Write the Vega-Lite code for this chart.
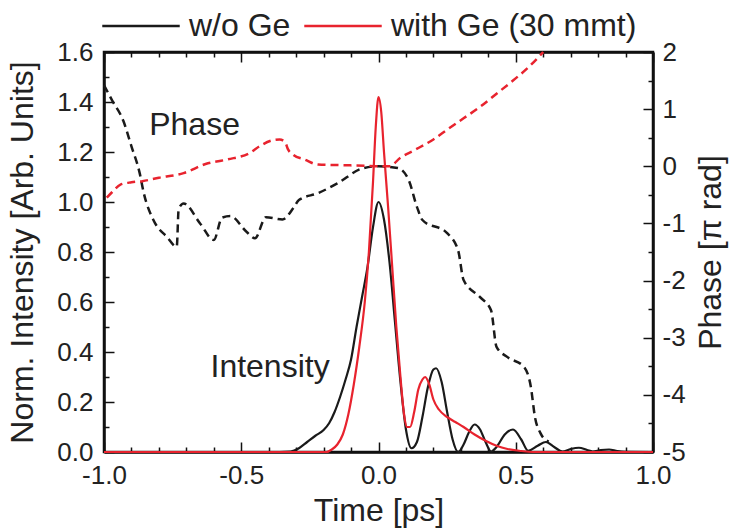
{
  "$schema": "https://vega.github.io/schema/vega-lite/v6.json",
  "width": 549,
  "height": 400,
  "autosize": {"type": "none"},
  "padding": {"left": 104, "top": 52, "right": 79, "bottom": 78},
  "config": {
    "view": {"stroke": "#111", "strokeWidth": 2.5},
    "font": "Liberation Sans",
    "axis": {
      "labelFont": "Liberation Sans",
      "titleFont": "Liberation Sans",
      "labelFontSize": 26,
      "titleFontSize": 32,
      "titleFontWeight": "normal",
      "labelColor": "#222",
      "titleColor": "#222",
      "domainColor": "#111",
      "domainWidth": 2.5,
      "tickColor": "#111",
      "tickWidth": 1.5,
      "grid": false,
      "labelOverlap": false,
      "labelFlush": false
    }
  },
  "datasets": {
    "intensity": [
      {"t": -1.0, "I": 0, "s": "w/o Ge"}, {"t": -0.6, "I": 0, "s": "w/o Ge"}, {"t": -0.4, "I": 0, "s": "w/o Ge"},
      {"t": -0.32, "I": 0.002, "s": "w/o Ge"}, {"t": -0.29, "I": 0.015, "s": "w/o Ge"}, {"t": -0.26, "I": 0.04, "s": "w/o Ge"},
      {"t": -0.23, "I": 0.065, "s": "w/o Ge"}, {"t": -0.2, "I": 0.088, "s": "w/o Ge"}, {"t": -0.18, "I": 0.115, "s": "w/o Ge"},
      {"t": -0.16, "I": 0.16, "s": "w/o Ge"}, {"t": -0.14, "I": 0.22, "s": "w/o Ge"}, {"t": -0.12, "I": 0.29, "s": "w/o Ge"},
      {"t": -0.1, "I": 0.37, "s": "w/o Ge"}, {"t": -0.08, "I": 0.5, "s": "w/o Ge"}, {"t": -0.06, "I": 0.62, "s": "w/o Ge"},
      {"t": -0.04, "I": 0.74, "s": "w/o Ge"}, {"t": -0.02, "I": 0.9, "s": "w/o Ge"}, {"t": 0, "I": 1.0, "s": "w/o Ge"},
      {"t": 0.02, "I": 0.93, "s": "w/o Ge"}, {"t": 0.04, "I": 0.76, "s": "w/o Ge"}, {"t": 0.06, "I": 0.52, "s": "w/o Ge"},
      {"t": 0.08, "I": 0.28, "s": "w/o Ge"}, {"t": 0.1, "I": 0.09, "s": "w/o Ge"}, {"t": 0.12, "I": 0.015, "s": "w/o Ge"},
      {"t": 0.14, "I": 0.04, "s": "w/o Ge"}, {"t": 0.16, "I": 0.14, "s": "w/o Ge"}, {"t": 0.18, "I": 0.26, "s": "w/o Ge"},
      {"t": 0.2, "I": 0.33, "s": "w/o Ge"}, {"t": 0.21, "I": 0.335, "s": "w/o Ge"}, {"t": 0.23, "I": 0.28, "s": "w/o Ge"},
      {"t": 0.25, "I": 0.16, "s": "w/o Ge"}, {"t": 0.27, "I": 0.05, "s": "w/o Ge"}, {"t": 0.29, "I": 0.0, "s": "w/o Ge"},
      {"t": 0.31, "I": 0.03, "s": "w/o Ge"}, {"t": 0.33, "I": 0.08, "s": "w/o Ge"}, {"t": 0.35, "I": 0.11, "s": "w/o Ge"},
      {"t": 0.37, "I": 0.09, "s": "w/o Ge"}, {"t": 0.39, "I": 0.04, "s": "w/o Ge"}, {"t": 0.41, "I": 0.002, "s": "w/o Ge"},
      {"t": 0.43, "I": 0.02, "s": "w/o Ge"}, {"t": 0.46, "I": 0.07, "s": "w/o Ge"}, {"t": 0.49, "I": 0.09, "s": "w/o Ge"},
      {"t": 0.52, "I": 0.05, "s": "w/o Ge"}, {"t": 0.545, "I": 0.005, "s": "w/o Ge"}, {"t": 0.58, "I": 0.025, "s": "w/o Ge"},
      {"t": 0.61, "I": 0.04, "s": "w/o Ge"}, {"t": 0.64, "I": 0.02, "s": "w/o Ge"}, {"t": 0.67, "I": 0.002, "s": "w/o Ge"},
      {"t": 0.7, "I": 0.012, "s": "w/o Ge"}, {"t": 0.73, "I": 0.017, "s": "w/o Ge"}, {"t": 0.76, "I": 0.008, "s": "w/o Ge"},
      {"t": 0.78, "I": 0.002, "s": "w/o Ge"}, {"t": 0.81, "I": 0.008, "s": "w/o Ge"}, {"t": 0.84, "I": 0.01, "s": "w/o Ge"},
      {"t": 0.87, "I": 0.004, "s": "w/o Ge"}, {"t": 0.9, "I": 0.001, "s": "w/o Ge"}, {"t": 1.0, "I": 0, "s": "w/o Ge"},

      {"t": -1.0, "I": 0, "s": "with Ge (30 mmt)"}, {"t": -0.4, "I": 0, "s": "with Ge (30 mmt)"}, {"t": -0.19, "I": 0, "s": "with Ge (30 mmt)"},
      {"t": -0.17, "I": 0.01, "s": "with Ge (30 mmt)"}, {"t": -0.15, "I": 0.03, "s": "with Ge (30 mmt)"}, {"t": -0.13, "I": 0.07, "s": "with Ge (30 mmt)"},
      {"t": -0.11, "I": 0.15, "s": "with Ge (30 mmt)"}, {"t": -0.09, "I": 0.27, "s": "with Ge (30 mmt)"}, {"t": -0.07, "I": 0.42, "s": "with Ge (30 mmt)"},
      {"t": -0.05, "I": 0.6, "s": "with Ge (30 mmt)"}, {"t": -0.035, "I": 0.8, "s": "with Ge (30 mmt)"}, {"t": -0.02, "I": 1.08, "s": "with Ge (30 mmt)"},
      {"t": -0.01, "I": 1.3, "s": "with Ge (30 mmt)"}, {"t": 0, "I": 1.42, "s": "with Ge (30 mmt)"}, {"t": 0.01, "I": 1.36, "s": "with Ge (30 mmt)"},
      {"t": 0.02, "I": 1.2, "s": "with Ge (30 mmt)"}, {"t": 0.035, "I": 0.98, "s": "with Ge (30 mmt)"}, {"t": 0.05, "I": 0.74, "s": "with Ge (30 mmt)"},
      {"t": 0.065, "I": 0.5, "s": "with Ge (30 mmt)"}, {"t": 0.08, "I": 0.3, "s": "with Ge (30 mmt)"}, {"t": 0.092, "I": 0.16, "s": "with Ge (30 mmt)"},
      {"t": 0.104, "I": 0.1, "s": "with Ge (30 mmt)"}, {"t": 0.115, "I": 0.1, "s": "with Ge (30 mmt)"}, {"t": 0.13, "I": 0.16, "s": "with Ge (30 mmt)"},
      {"t": 0.145, "I": 0.25, "s": "with Ge (30 mmt)"}, {"t": 0.16, "I": 0.29, "s": "with Ge (30 mmt)"}, {"t": 0.17, "I": 0.3, "s": "with Ge (30 mmt)"},
      {"t": 0.185, "I": 0.27, "s": "with Ge (30 mmt)"}, {"t": 0.2, "I": 0.21, "s": "with Ge (30 mmt)"}, {"t": 0.22, "I": 0.17, "s": "with Ge (30 mmt)"},
      {"t": 0.25, "I": 0.14, "s": "with Ge (30 mmt)"}, {"t": 0.28, "I": 0.12, "s": "with Ge (30 mmt)"}, {"t": 0.31, "I": 0.1, "s": "with Ge (30 mmt)"},
      {"t": 0.35, "I": 0.07, "s": "with Ge (30 mmt)"}, {"t": 0.39, "I": 0.045, "s": "with Ge (30 mmt)"}, {"t": 0.43, "I": 0.025, "s": "with Ge (30 mmt)"},
      {"t": 0.47, "I": 0.012, "s": "with Ge (30 mmt)"}, {"t": 0.52, "I": 0.004, "s": "with Ge (30 mmt)"}, {"t": 0.56, "I": 0, "s": "with Ge (30 mmt)"},
      {"t": 1.0, "I": 0, "s": "with Ge (30 mmt)"}
    ],
    "phase": [
      {"t": -1.0, "p": 1.42, "s": "w/o Ge"}, {"t": -0.97, "p": 1.15, "s": "w/o Ge"}, {"t": -0.93, "p": 0.8, "s": "w/o Ge"},
      {"t": -0.9, "p": 0.35, "s": "w/o Ge"}, {"t": -0.87, "p": -0.12, "s": "w/o Ge"}, {"t": -0.855, "p": -0.47, "s": "w/o Ge"},
      {"t": -0.82, "p": -0.94, "s": "w/o Ge"}, {"t": -0.77, "p": -1.24, "s": "w/o Ge"}, {"t": -0.735, "p": -1.41, "s": "w/o Ge"},
      {"t": -0.728, "p": -0.75, "s": "w/o Ge"}, {"t": -0.71, "p": -0.65, "s": "w/o Ge"}, {"t": -0.65, "p": -1.0, "s": "w/o Ge"},
      {"t": -0.6, "p": -1.29, "s": "w/o Ge"}, {"t": -0.57, "p": -0.9, "s": "w/o Ge"}, {"t": -0.54, "p": -0.87, "s": "w/o Ge"},
      {"t": -0.48, "p": -1.15, "s": "w/o Ge"}, {"t": -0.45, "p": -1.26, "s": "w/o Ge"}, {"t": -0.41, "p": -0.89, "s": "w/o Ge"},
      {"t": -0.35, "p": -0.93, "s": "w/o Ge"}, {"t": -0.31, "p": -0.73, "s": "w/o Ge"}, {"t": -0.29, "p": -0.59, "s": "w/o Ge"},
      {"t": -0.22, "p": -0.47, "s": "w/o Ge"}, {"t": -0.15, "p": -0.3, "s": "w/o Ge"}, {"t": -0.06, "p": -0.04, "s": "w/o Ge"},
      {"t": 0, "p": 0, "s": "w/o Ge"}, {"t": 0.07, "p": -0.03, "s": "w/o Ge"}, {"t": 0.11, "p": -0.24, "s": "w/o Ge"},
      {"t": 0.14, "p": -0.71, "s": "w/o Ge"}, {"t": 0.16, "p": -0.94, "s": "w/o Ge"}, {"t": 0.25, "p": -1.17, "s": "w/o Ge"},
      {"t": 0.29, "p": -1.47, "s": "w/o Ge"}, {"t": 0.31, "p": -1.99, "s": "w/o Ge"}, {"t": 0.37, "p": -2.29, "s": "w/o Ge"},
      {"t": 0.41, "p": -2.52, "s": "w/o Ge"}, {"t": 0.43, "p": -3.16, "s": "w/o Ge"}, {"t": 0.47, "p": -3.34, "s": "w/o Ge"},
      {"t": 0.53, "p": -3.51, "s": "w/o Ge"}, {"t": 0.555, "p": -3.86, "s": "w/o Ge"}, {"t": 0.57, "p": -4.39, "s": "w/o Ge"},
      {"t": 0.59, "p": -4.67, "s": "w/o Ge"}, {"t": 0.62, "p": -4.82, "s": "w/o Ge"},

      {"t": -0.99, "p": -0.55, "s": "with Ge (30 mmt)"}, {"t": -0.97, "p": -0.45, "s": "with Ge (30 mmt)"}, {"t": -0.94, "p": -0.32, "s": "with Ge (30 mmt)"},
      {"t": -0.9, "p": -0.28, "s": "with Ge (30 mmt)"}, {"t": -0.86, "p": -0.26, "s": "with Ge (30 mmt)"}, {"t": -0.8, "p": -0.2, "s": "with Ge (30 mmt)"},
      {"t": -0.71, "p": -0.12, "s": "with Ge (30 mmt)"}, {"t": -0.63, "p": 0.04, "s": "with Ge (30 mmt)"}, {"t": -0.55, "p": 0.12, "s": "with Ge (30 mmt)"},
      {"t": -0.47, "p": 0.23, "s": "with Ge (30 mmt)"}, {"t": -0.43, "p": 0.36, "s": "with Ge (30 mmt)"}, {"t": -0.39, "p": 0.45, "s": "with Ge (30 mmt)"},
      {"t": -0.36, "p": 0.47, "s": "with Ge (30 mmt)"}, {"t": -0.34, "p": 0.42, "s": "with Ge (30 mmt)"}, {"t": -0.33, "p": 0.3, "s": "with Ge (30 mmt)"},
      {"t": -0.31, "p": 0.2, "s": "with Ge (30 mmt)"}, {"t": -0.27, "p": 0.12, "s": "with Ge (30 mmt)"}, {"t": -0.22, "p": 0.03, "s": "with Ge (30 mmt)"},
      {"t": -0.14, "p": 0.02, "s": "with Ge (30 mmt)"}, {"t": -0.05, "p": 0.01, "s": "with Ge (30 mmt)"}, {"t": 0, "p": 0, "s": "with Ge (30 mmt)"},
      {"t": 0.04, "p": 0.0, "s": "with Ge (30 mmt)"}, {"t": 0.08, "p": 0.15, "s": "with Ge (30 mmt)"}, {"t": 0.13, "p": 0.28, "s": "with Ge (30 mmt)"},
      {"t": 0.2, "p": 0.47, "s": "with Ge (30 mmt)"}, {"t": 0.25, "p": 0.64, "s": "with Ge (30 mmt)"}, {"t": 0.31, "p": 0.84, "s": "with Ge (30 mmt)"},
      {"t": 0.37, "p": 1.04, "s": "with Ge (30 mmt)"}, {"t": 0.43, "p": 1.27, "s": "with Ge (30 mmt)"}, {"t": 0.49, "p": 1.5, "s": "with Ge (30 mmt)"},
      {"t": 0.55, "p": 1.75, "s": "with Ge (30 mmt)"}, {"t": 0.6, "p": 2.0, "s": "with Ge (30 mmt)"}
    ],
    "notes": [
      {"t": -0.67, "I": 1.31, "label": "Phase"},
      {"t": -0.395, "I": 0.34, "label": "Intensity"}
    ]
  },
  "resolve": {"scale": {"y": "independent"}, "axis": {"x": "independent", "y": "independent"}},
  "layer": [
    {
      "data": {"name": "intensity"},
      "mark": {"type": "line", "strokeWidth": 2.2, "interpolate": "monotone"},
      "encoding": {
        "x": {
          "field": "t", "type": "quantitative",
          "scale": {"domain": [-1, 1], "nice": false},
          "axis": {
            "orient": "bottom",
            "values": [-1, -0.9, -0.8, -0.7, -0.6, -0.5, -0.4, -0.3, -0.2, -0.1, 0, 0.1, 0.2, 0.3, 0.4, 0.5, 0.6, 0.7, 0.8, 0.9, 1],
            "labelExpr": "abs(round(datum.value*10)) % 5 === 0 ? replace(format(datum.value, '.1f'), '\u2212', '-') : ''",
            "tickSize": {"condition": {"test": "abs(round(datum.value*10)) % 5 === 0", "value": -10}, "value": -5},
            "labelPadding": 20,
            "title": "Time [ps]",
            "titlePadding": 2
          }
        },
        "y": {
          "field": "I", "type": "quantitative",
          "scale": {"domain": [0, 1.6], "nice": false},
          "axis": {
            "orient": "left",
            "values": [0, 0.1, 0.2, 0.3, 0.4, 0.5, 0.6, 0.7, 0.8, 0.9, 1.0, 1.1, 1.2, 1.3, 1.4, 1.5, 1.6],
            "labelExpr": "abs(round(datum.value*10)) % 2 === 0 ? format(datum.value, '.1f') : ''",
            "tickSize": {"condition": {"test": "abs(round(datum.value*10)) % 2 === 0", "value": -10}, "value": -5},
            "labelPadding": 21,
            "title": "Norm. Intensity [Arb. Units]",
            "titlePadding": 17
          }
        },
        "color": {
          "field": "s", "type": "nominal",
          "scale": {"domain": ["w/o Ge", "with Ge (30 mmt)"], "range": ["#1a1a1a", "#e8232e"]},
          "legend": {
            "title": null, "orient": "none", "legendX": -3, "legendY": -66,
            "direction": "horizontal", "symbolType": "stroke", "symbolSize": 6000,
            "symbolStrokeWidth": 2.5, "labelFontSize": 32, "labelFont": "Liberation Sans",
            "labelColor": "#222", "labelOffset": 8, "labelLimit": 0, "columnPadding": 8, "padding": 0
          }
        }
      }
    },
    {
      "data": {"name": "notes"},
      "mark": {"type": "text", "fontSize": 32, "font": "Liberation Sans", "color": "#222", "align": "center", "baseline": "middle"},
      "encoding": {
        "x": {"field": "t", "type": "quantitative", "axis": null},
        "y": {"field": "I", "type": "quantitative", "scale": {"domain": [0, 1.6], "nice": false}, "axis": null},
        "text": {"field": "label"}
      }
    },
    {
      "data": {"name": "phase"},
      "mark": {"type": "line", "strokeWidth": 2.5, "strokeDash": [8, 5], "interpolate": "monotone"},
      "encoding": {
        "x": {
          "field": "t", "type": "quantitative",
          "scale": {"domain": [-1, 1], "nice": false},
          "axis": {
            "orient": "top",
            "values": [-1, -0.9, -0.8, -0.7, -0.6, -0.5, -0.4, -0.3, -0.2, -0.1, 0, 0.1, 0.2, 0.3, 0.4, 0.5, 0.6, 0.7, 0.8, 0.9, 1],
            "labels": false,
            "tickSize": {"condition": {"test": "abs(round(datum.value*10)) % 5 === 0", "value": -10}, "value": -5},
            "title": null
          }
        },
        "y": {
          "field": "p", "type": "quantitative",
          "scale": {"domain": [-5, 2], "nice": false},
          "axis": {
            "orient": "right",
            "values": [-5, -4.5, -4, -3.5, -3, -2.5, -2, -1.5, -1, -0.5, 0, 0.5, 1, 1.5, 2],
            "labelExpr": "abs(round(datum.value*2)) % 2 === 0 ? replace(format(datum.value, 'd'), '\u2212', '-') : ''",
            "tickSize": {"condition": {"test": "abs(round(datum.value*2)) % 2 === 0", "value": -10}, "value": -5},
            "labelPadding": 19,
            "title": "Phase [\u03c0 rad]",
            "titleAngle": 270,
            "titleBaseline": "top",
            "titlePadding": 10
          }
        },
        "color": {"field": "s", "type": "nominal", "legend": null}
      }
    }
  ]
}
